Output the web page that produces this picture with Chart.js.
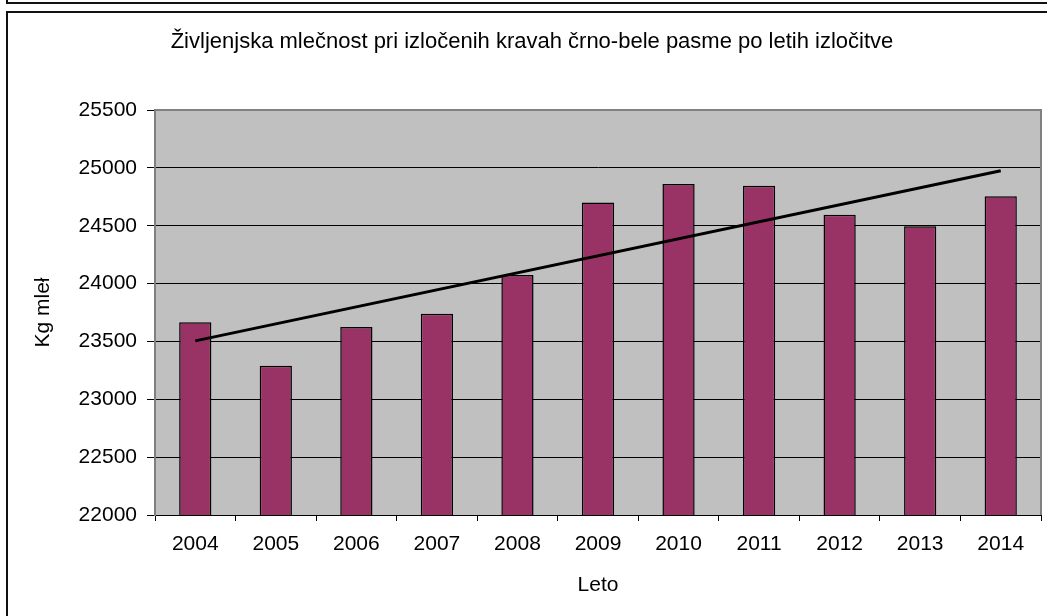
<!DOCTYPE html>
<html>
<head>
<meta charset="utf-8">
<script src="https://cdn.jsdelivr.net/npm/chart.js@4.4.0/dist/chart.umd.min.js"></script>
<style>
  html, body { margin: 0; padding: 0; background: #fff; }
  #wrap { width: 1047px; height: 616px; }
</style>
</head>
<body>
<div id="wrap"><canvas id="c" width="1047" height="616"></canvas></div>
<script>
const categories = ["2004","2005","2006","2007","2008","2009","2010","2011","2012","2013","2014"];
const milkValues = [23665, 23290, 23625, 23740, 24075, 24700, 24860, 24845, 24595, 24495, 24755];
const trendValues = [23505, null, null, null, null, null, null, null, null, null, 24975];
const yTickValues = [22000, 22500, 23000, 23500, 24000, 24500, 25000, 25500];
const chartTitle = "Življenjska mlečnost pri izločenih kravah črno-bele pasme po letih izločitve";
const xTitle = "Leto";
const yTitle = "Kg mleł";

const FONT = "'Liberation Sans', Arial, sans-serif";

const decor = {
  id: 'decor',
  beforeDraw(chart) {
    const ctx = chart.ctx, a = chart.chartArea;
    ctx.save();
    ctx.fillStyle = '#ffffff';
    ctx.fillRect(0, 0, chart.width, chart.height);
    ctx.strokeStyle = '#111111';
    ctx.lineWidth = 2;
    ctx.beginPath();
    ctx.moveTo(7, 0); ctx.lineTo(7, 3); ctx.lineTo(chart.width, 3);
    ctx.moveTo(chart.width, 12); ctx.lineTo(7, 12); ctx.lineTo(7, chart.height);
    ctx.stroke();
    ctx.fillStyle = '#c0c0c0';
    ctx.fillRect(a.left, a.top, a.right - a.left, a.bottom - a.top);
    ctx.restore();
  },
  beforeDatasetsDraw(chart) {
    const ctx = chart.ctx, a = chart.chartArea;
    ctx.save();
    ctx.strokeStyle = '#808080';
    ctx.lineWidth = 2;
    ctx.beginPath();
    ctx.moveTo(a.left, a.top); ctx.lineTo(a.right, a.top); ctx.lineTo(a.right, a.bottom);
    ctx.stroke();
    ctx.restore();
  }
};

new Chart(document.getElementById('c'), {
  type: 'bar',
  data: {
    labels: categories,
    datasets: [
      {
        type: 'line',
        data: trendValues,
        borderColor: '#000000',
        borderWidth: 3,
        pointRadius: 0,
        spanGaps: true,
        fill: false,
        order: 0
      },
      {
        type: 'bar',
        data: milkValues,
        backgroundColor: '#993366',
        borderColor: '#000000',
        borderWidth: 1.5,
        barPercentage: 0.4,
        categoryPercentage: 1.0,
        order: 1
      }
    ]
  },
  options: {
    responsive: false,
    devicePixelRatio: 1,
    animation: false,
    layout: { padding: { left: 23, right: 6, top: 0, bottom: 0 } },
    plugins: {
      legend: { display: false },
      tooltip: { enabled: false },
      title: {
        display: true,
        text: chartTitle,
        color: '#000',
        font: { family: FONT, size: 22, weight: 'normal' },
        padding: { top: 28.8, bottom: 54.8 }
      }
    },
    scales: {
      x: {
        offset: true,
        grid: { display: true, drawOnChartArea: false, drawTicks: true, tickLength: 6, tickColor: '#000', offset: true },
        border: { display: true, color: '#000', width: 1 },
        ticks: { color: '#000', font: { family: FONT, size: 21 }, padding: 11, maxRotation: 0, autoSkip: false },
        title: { display: true, text: xTitle, color: '#000', font: { family: FONT, size: 21 }, padding: { top: 0, bottom: 18 } },
        afterFit(scale) { scale.height = 101; }
      },
      y: {
        min: 22000,
        max: 25500,
        afterBuildTicks(scale) { scale.ticks = yTickValues.map(v => ({ value: v })); },
        grid: { color: '#000', lineWidth: 1, drawTicks: true, tickLength: 8, tickColor: '#000' },
        border: { display: true, color: '#808080', width: 2 },
        ticks: { color: '#000', font: { family: FONT, size: 21 }, padding: 10, callback: v => String(v) },
        title: { display: true, text: yTitle, color: '#000', font: { family: FONT, size: 21 }, padding: { top: 8, bottom: 0 } },
        afterFit(scale) { scale.width = 132; }
      }
    }
  },
  plugins: [decor]
});
</script>
</body>
</html>
